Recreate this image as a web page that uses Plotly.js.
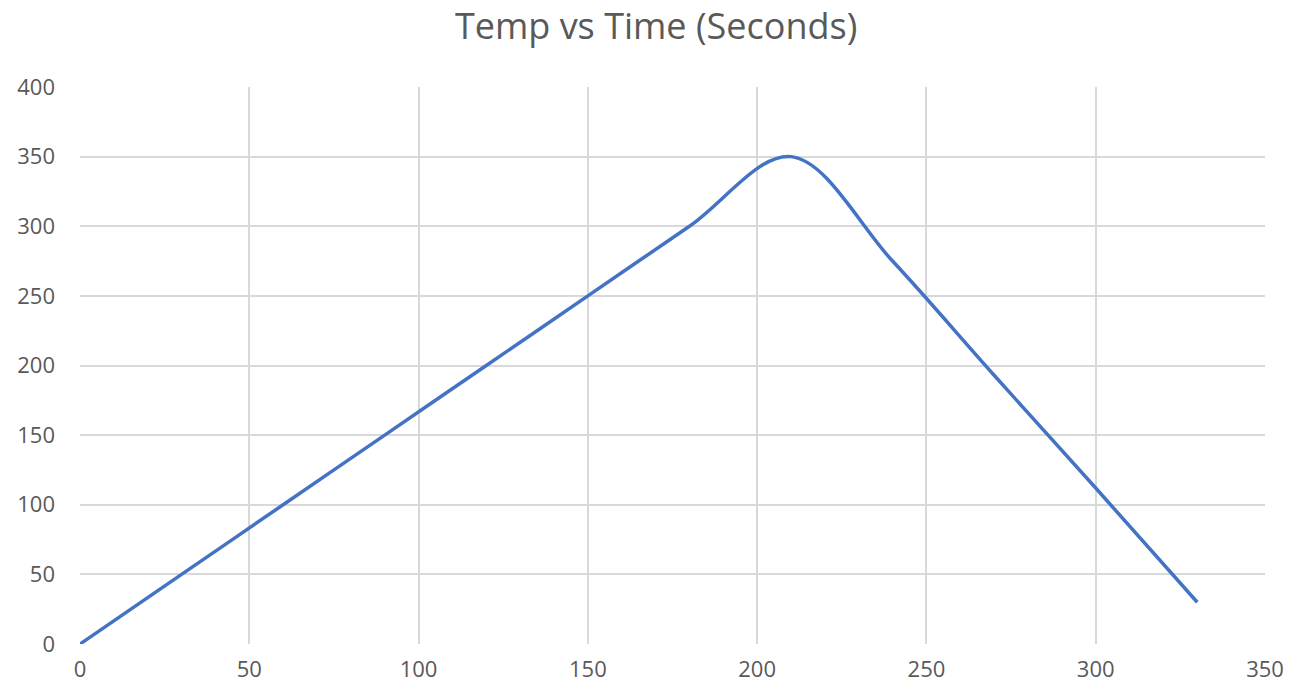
<!DOCTYPE html>
<html>
<head>
<meta charset="utf-8">
<script src="https://cdn.plot.ly/plotly-3.0.1.min.js"></script>
<style>html,body{margin:0;padding:0;background:#fff;}#chart{width:1289px;height:691px;}</style>
</head>
<body>
<div id="chart"></div>
<script>
const timeSeconds = [0, 30, 60, 90, 120, 150, 180, 210, 240, 270, 300, 330];
const tempValues  = [0, 50, 100, 150, 200, 250, 300, 350, 275, 193, 112, 30];
const xTicks = [0, 50, 100, 150, 200, 250, 300, 350];
const yTicks = [0, 50, 100, 150, 200, 250, 300, 350, 400];

const trace = {
  x: timeSeconds,
  y: tempValues,
  type: 'scatter',
  mode: 'lines',
  line: {color: '#4472C4', width: 3.5, shape: 'spline', smoothing: 1},
  hoverinfo: 'x+y'
};

const fontFam = '"Open Sans", "Liberation Sans", sans-serif';
const layout = {
  width: 1289, height: 691,
  margin: {l: 80, r: 24, t: 87, b: 47, pad: 0},
  paper_bgcolor: '#ffffff', plot_bgcolor: '#ffffff',
  showlegend: false,
  title: {
    text: 'Temp vs Time (Seconds)',
    font: {family: fontFam, size: 36, color: '#595959'},
    x: 0.509, xanchor: 'center', xref: 'container',
    y: 0.962, yanchor: 'middle', yref: 'container'
  },
  xaxis: {
    range: [0, 350], tickvals: xTicks, ticktext: xTicks.map(String),
    showgrid: true, gridcolor: '#d9d9d9', gridwidth: 2,
    zeroline: false, showline: false, ticks: '',
    ticklabelstandoff: 10,
    tickfont: {family: fontFam, size: 22, color: '#595959'},
    fixedrange: true
  },
  yaxis: {
    range: [0, 400], tickvals: yTicks, ticktext: yTicks.map(String),
    showgrid: true, gridcolor: '#d9d9d9', gridwidth: 2,
    zeroline: false, showline: false, ticks: '',
    ticklabelstandoff: 24,
    tickfont: {family: fontFam, size: 22, color: '#595959'},
    fixedrange: true
  }
};

Plotly.newPlot('chart', [trace], layout, {displayModeBar: false, staticPlot: true});
</script>
</body>
</html>
